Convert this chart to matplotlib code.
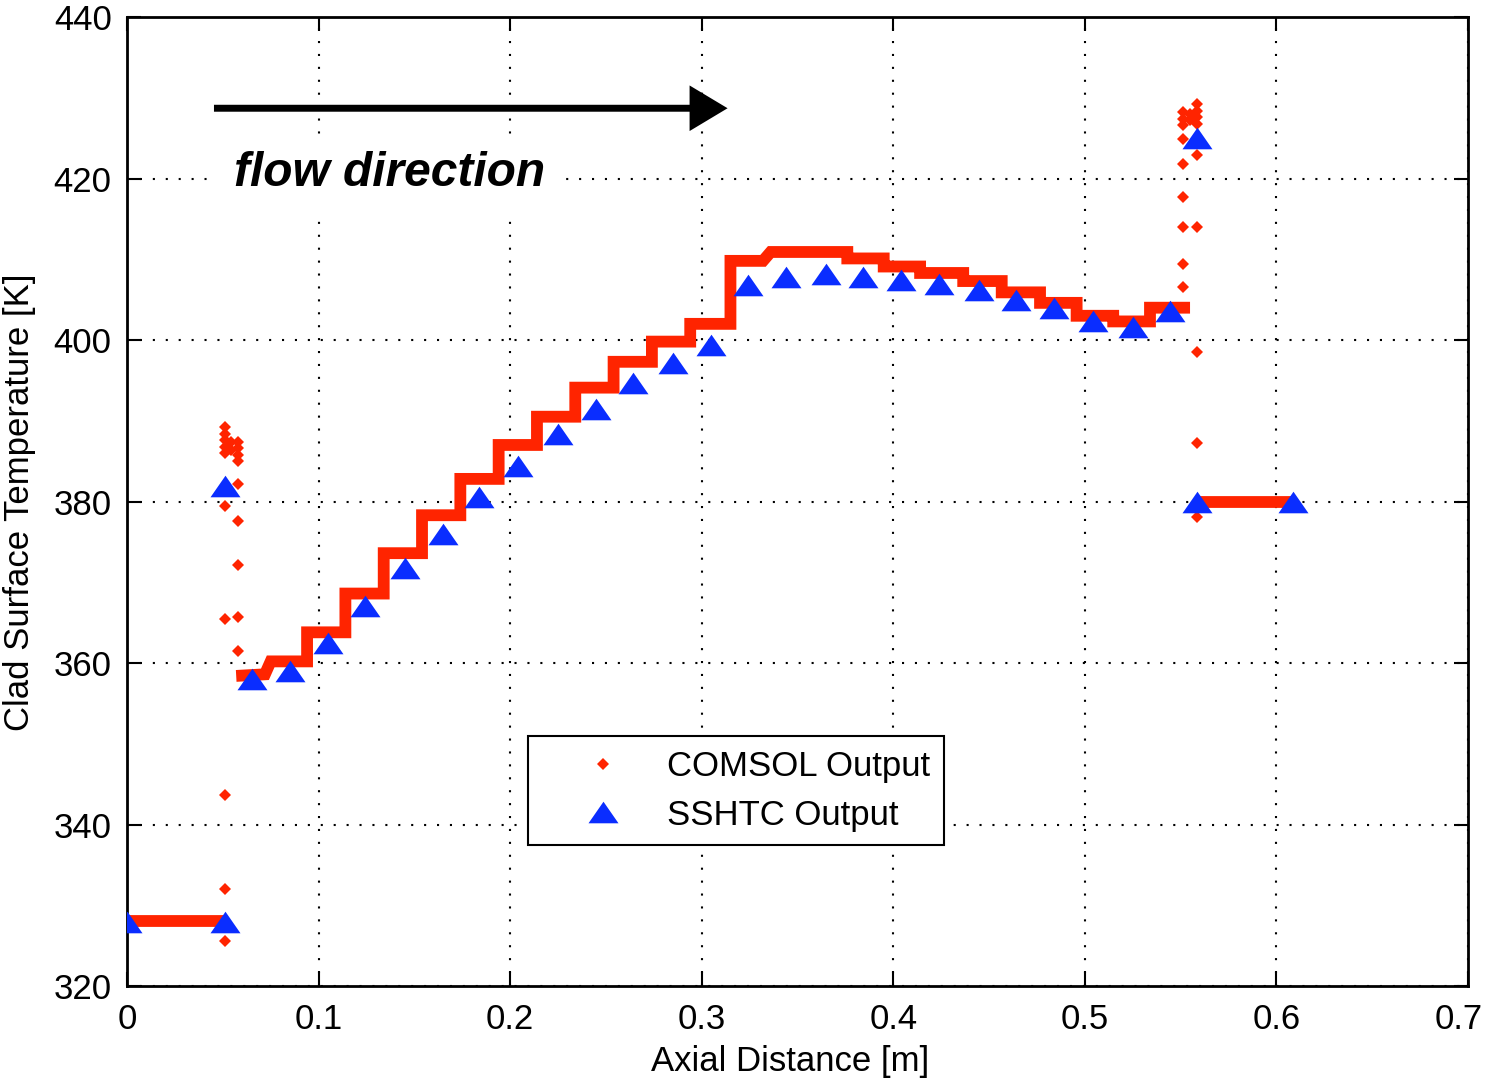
import matplotlib
matplotlib.use('Agg')
import matplotlib.pyplot as plt
from matplotlib.path import Path
from matplotlib.transforms import ScaledTranslation

plt.rcParams['font.family'] = ['Liberation Sans', 'DejaVu Sans']

# ---------------- data ----------------
x_ticks = [0, 0.1, 0.2, 0.3, 0.4, 0.5, 0.6, 0.7]
x_tick_labels = ['0', '0.1', '0.2', '0.3', '0.4', '0.5', '0.6', '0.7']
y_ticks = [320, 340, 360, 380, 400, 420, 440]

# COMSOL output: inlet plateau, heated staircase, outlet plateau
inlet_x = [0.0, 0.051]
inlet_T = [328.0, 328.0]

stair_x = [0.057, 0.072, 0.075, 0.094, 0.094, 0.114, 0.114, 0.134, 0.134, 0.154,
           0.154, 0.174, 0.174, 0.194, 0.194, 0.214, 0.214, 0.234, 0.234, 0.254,
           0.254, 0.274, 0.274, 0.294, 0.294, 0.315, 0.315, 0.332, 0.336, 0.376,
           0.376, 0.395, 0.395, 0.414, 0.414, 0.4365, 0.4365, 0.4566, 0.4566, 0.4766,
           0.4766, 0.4957, 0.4957, 0.5148, 0.5148, 0.534, 0.534, 0.5549]
stair_T = [358.4, 358.6, 360.2, 360.2, 363.8, 363.8, 368.6, 368.6, 373.6, 373.6,
           378.3, 378.3, 382.8, 382.8, 387.0, 387.0, 390.5, 390.5, 394.1, 394.1,
           397.3, 397.3, 399.8, 399.8, 402.0, 402.0, 409.8, 409.8, 410.9, 410.9,
           410.1, 410.1, 409.1, 409.1, 408.3, 408.3, 407.3, 407.3, 405.9, 405.9,
           404.6, 404.6, 403.0, 403.0, 402.3, 402.3, 404.0, 404.0]

outlet_x = [0.5585, 0.6087]
outlet_T = [380.0, 380.0]

# COMSOL isolated points at the heated-zone boundaries
scatter_x = [0.051, 0.051, 0.051, 0.051, 0.051, 0.051, 0.051, 0.051, 0.051, 0.051,
             0.058, 0.058, 0.058, 0.058, 0.058, 0.058, 0.058, 0.058, 0.058,
             0.0545, 0.0545,
             0.551, 0.551, 0.551, 0.551, 0.551, 0.551, 0.551, 0.551, 0.551,
             0.555, 0.555,
             0.5585, 0.5585, 0.5585, 0.5585, 0.5585, 0.5585, 0.5585, 0.5585, 0.5585]
scatter_T = [325.6, 332.0, 343.6, 365.4, 379.5, 386.0, 386.8, 387.6, 388.4, 389.2,
             361.5, 365.7, 372.1, 377.6, 382.2, 385.0, 385.8, 386.6, 387.4,
             386.4, 387.4,
             406.6, 409.4, 414.0, 417.7, 421.8, 424.9, 426.6, 427.4, 428.2,
             427.2, 428.0,
             378.1, 387.2, 398.5, 414.0, 422.9, 426.8, 427.6, 428.4, 429.2]

# SSHTC output
sshtc_x = [0.0, 0.0512, 0.0512, 0.065, 0.085, 0.105, 0.124, 0.145, 0.165, 0.184,
           0.204, 0.225, 0.245, 0.264, 0.285, 0.305, 0.324, 0.344, 0.365, 0.384,
           0.404, 0.424, 0.445, 0.464, 0.484, 0.504, 0.525, 0.5445, 0.5585, 0.5585,
           0.6087]
sshtc_T = [327.9, 327.9, 381.9, 358.0, 359.05, 362.5, 367.1, 371.8, 376.0, 380.5,
           384.4, 388.3, 391.4, 394.7, 397.2, 399.4, 406.8, 407.8, 408.2, 407.8,
           407.4, 406.9, 406.2, 404.9, 404.0, 402.4, 401.6, 403.65, 425.0, 380.0,
           380.0]

red = '#ff2400'
blue = '#0a2dff'

# ---------------- figure ----------------
W, H = 1488, 1078
fig = plt.figure(figsize=(W / 100, H / 100), dpi=100)
ax = fig.add_axes([127 / W, 1 - 986 / H, 1341 / W, 969 / H])

tri = Path([(0, 0.72), (-1, -0.72), (1, -0.72), (0, 0.72)],
           [Path.MOVETO, Path.LINETO, Path.LINETO, Path.CLOSEPOLY])

lw_band = 8.5
for xs, ts in [(inlet_x, inlet_T), (stair_x, stair_T), (outlet_x, outlet_T)]:
    ax.plot(xs, ts, color=red, lw=lw_band, solid_joinstyle='miter',
            solid_capstyle='butt', zorder=3)
ax.plot(scatter_x, scatter_T, ls='none', marker='D', ms=6.3, mew=0, color=red,
        label='COMSOL Output', zorder=3)
ax.plot(sshtc_x, sshtc_T, ls='none', marker=tri, ms=21.6, mew=0, color=blue,
        label='SSHTC Output', zorder=4)

ax.set_xlim(0, 0.7)
ax.set_ylim(320, 440)
ax.set_xticks(x_ticks)
ax.set_xticklabels(x_tick_labels, fontsize=25)
ax.set_yticks(y_ticks)
ax.set_yticklabels([str(v) for v in y_ticks], fontsize=25)

ax.grid(True, color='k', linestyle=(0, (1, 5.2)), linewidth=1.5)
ax.set_axisbelow(True)
ax.tick_params(axis='both', direction='in', length=10, width=1.5,
               top=True, right=True)
ax.tick_params(axis='x', pad=12)
ax.tick_params(axis='y', pad=11)
for sp in ax.spines.values():
    sp.set_linewidth(2)
    sp.set_color('k')

# keep the last x tick label inside the canvas
last = ax.get_xticklabels()[-1]
last.set_transform(last.get_transform() + ScaledTranslation(-7 / 72, 0, fig.dpi_scale_trans))

ax.set_xlabel('Axial Distance [m]', fontsize=25)
ax.set_ylabel('Clad Surface Temperature [K]', fontsize=25)
ax.xaxis.set_label_coords(0.4948, -0.061)
ax.yaxis.set_label_coords(-0.068, 0.499)

# flow direction arrow + text
ax.annotate('', xy=(0.3135, 428.7), xytext=(0.0454, 428.7),
            arrowprops=dict(arrowstyle='-|>,head_length=0.5,head_width=0.3',
                            lw=5, color='k', mutation_scale=40,
                            joinstyle='miter', capstyle='butt',
                            shrinkA=0, shrinkB=0), zorder=5)
ax.text(0.0559, 419.1, 'flow direction', fontsize=34.5, fontweight='bold',
        fontstyle='italic', ha='left', va='baseline', zorder=5,
        bbox=dict(boxstyle='square,pad=0.35', facecolor='white', edgecolor='none'))

leg = ax.legend(loc='upper left', bbox_to_anchor=(0.299, 0.258), borderaxespad=0,
                frameon=True, fancybox=False, edgecolor='k', framealpha=1,
                fontsize=25, handlelength=3.5, handletextpad=0.1, borderpad=0.4,
                labelspacing=0.45, numpoints=1)
leg.get_frame().set_linewidth(1.5)

fig.savefig('out.png', dpi=100)
